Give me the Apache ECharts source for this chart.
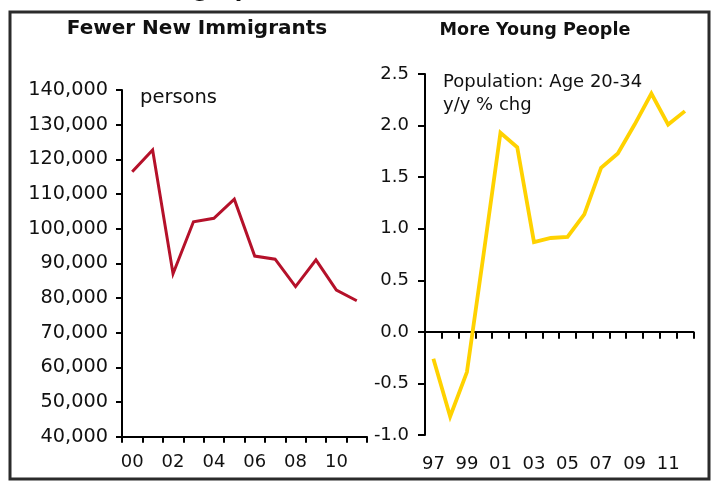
<!DOCTYPE html>
<html>
<head>
<meta charset="utf-8">
<script src="https://cdn.jsdelivr.net/npm/echarts@6/dist/echarts.min.js"></script>
<style>
  html, body { margin: 0; padding: 0; background: #fff; }
  #chart { width: 711px; height: 483px; }
</style>
</head>
<body>
<div id="chart"></div>
<script>
// Left panel: new immigrants per year (persons), 2000-2011
const immigrantYears = ['00','01','02','03','04','05','06','07','08','09','10','11'];
const immigrants = [116400, 122700, 87000, 102000, 103000, 108500, 92100, 91200, 83300, 91000, 82300, 79200];

// Right panel: population aged 20-34, y/y % change, 1997-2012
const youngYears = ['97','98','99','00','01','02','03','04','05','06','07','08','09','10','11','12'];
const youngGrowth = [-0.26, -0.82, -0.39, 0.76, 1.93, 1.79, 0.87, 0.91, 0.92, 1.14, 1.59, 1.73, 2.01, 2.31, 2.01, 2.14];

// Axis ranges
const immigrantAxis = { min: 40000, max: 140000, step: 10000 };
const youngAxis = { min: -1.0, max: 2.5, step: 0.5 };

const FONT = '"DejaVu Sans", Verdana, sans-serif';
const INK = '#111';
const axisLine = { show: true, onZero: false, lineStyle: { color: '#000', width: 2 } };

const chart = echarts.init(document.getElementById('chart'), null, { renderer: 'canvas' });

chart.setOption({
  backgroundColor: '#fff',
  animation: false,
  grid: [
    { left: 122, top: 90, width: 245, height: 346.7 },
    { left: 425, top: 74, width: 268.3, height: 361 }
  ],
  xAxis: [
    {
      type: 'category', gridIndex: 0, data: immigrantYears, boundaryGap: true,
      axisLine: axisLine,
      axisTick: { show: true, interval: 0, length: 6, lineStyle: { color: '#000', width: 2 } },
      axisLabel: { interval: 1, fontSize: 18, color: INK, fontFamily: FONT, margin: 17 }
    },
    {
      // zero line with tick marks
      type: 'category', gridIndex: 1, data: youngYears, boundaryGap: true,
      axisLine: { show: true, onZero: true, lineStyle: { color: '#000', width: 2 } },
      axisTick: { show: true, interval: 0, length: 7, lineStyle: { color: '#000', width: 2 } },
      axisLabel: { show: false }
    },
    {
      // year labels along the bottom
      type: 'category', gridIndex: 1, data: youngYears, boundaryGap: true, position: 'bottom',
      axisLine: { show: false, onZero: false },
      axisTick: { show: false },
      axisLabel: { interval: 1, fontSize: 18, color: INK, fontFamily: FONT, margin: 20 }
    }
  ],
  yAxis: [
    {
      type: 'value', gridIndex: 0,
      min: immigrantAxis.min, max: immigrantAxis.max, interval: immigrantAxis.step,
      axisLine: axisLine,
      axisTick: { show: true, length: 6, lineStyle: { color: '#000', width: 2 } },
      splitLine: { show: false },
      axisLabel: {
        fontSize: 19.3, color: INK, fontFamily: FONT, margin: 14,
        formatter: v => v.toLocaleString('en-US')
      }
    },
    {
      type: 'value', gridIndex: 1,
      min: youngAxis.min, max: youngAxis.max, interval: youngAxis.step,
      axisLine: axisLine,
      axisTick: { show: true, length: 7, lineStyle: { color: '#000', width: 2 } },
      splitLine: { show: false },
      axisLabel: {
        fontSize: 18, color: INK, fontFamily: FONT, margin: 16,
        formatter: v => v.toFixed(1)
      }
    }
  ],
  series: [
    {
      type: 'line', xAxisIndex: 0, yAxisIndex: 0, data: immigrants,
      symbol: 'none', lineStyle: { color: '#B5112A', width: 3, join: 'miter' }
    },
    {
      type: 'line', xAxisIndex: 1, yAxisIndex: 1, data: youngGrowth,
      symbol: 'none', lineStyle: { color: '#FFD200', width: 3.8, join: 'miter' }
    }
  ],
  graphic: [
    {
      type: 'rect', silent: true,
      shape: { x: 10, y: 12, width: 699, height: 467 },
      style: { fill: 'none', stroke: '#2b2b2b', lineWidth: 3 }
    },
    {
      // page heading above the frame, mostly outside the drawing area
      type: 'text', silent: true, x: 122, y: 2.5,
      style: { text: 'Demographics', font: 'bold 22px ' + FONT, fill: INK, verticalAlign: 'bottom' }
    },
    {
      type: 'text', silent: true, x: 197, y: 29,
      style: { text: 'Fewer New Immigrants', font: 'bold 20px ' + FONT, fill: INK, align: 'center', verticalAlign: 'middle' }
    },
    {
      type: 'text', silent: true, x: 535, y: 30,
      style: { text: 'More Young People', font: 'bold 17.6px ' + FONT, fill: INK, align: 'center', verticalAlign: 'middle' }
    },
    {
      type: 'text', silent: true, x: 140, y: 98,
      style: { text: 'persons', font: '19.5px ' + FONT, fill: INK, verticalAlign: 'middle' }
    },
    {
      type: 'text', silent: true, x: 443, y: 71,
      style: { text: 'Population: Age 20-34\ny/y % chg', font: '18px ' + FONT, fill: INK, lineHeight: 23, verticalAlign: 'top' }
    }
  ]
});
</script>
</body>
</html>
